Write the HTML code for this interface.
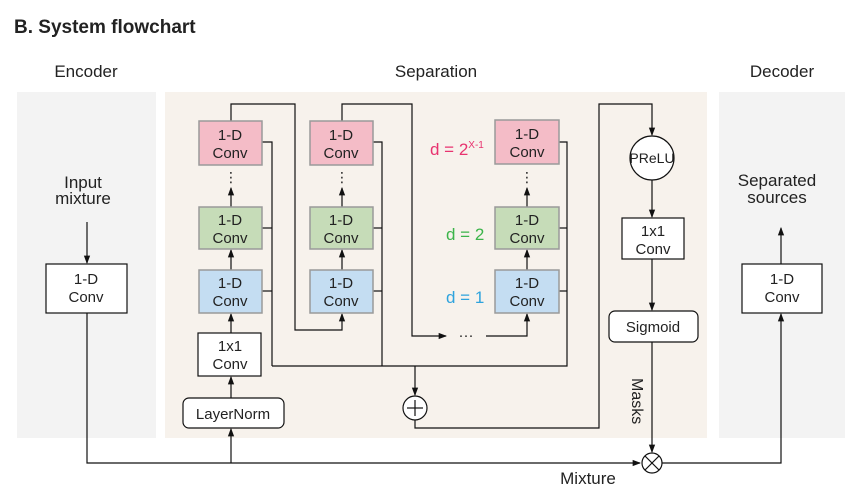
<!DOCTYPE html>
<html><head><meta charset="utf-8"><style>
html,body{margin:0;padding:0;background:#fff;}
svg{display:block;font-family:"Liberation Sans","DejaVu Sans",sans-serif;}
text{fill:#222;}
</style></head><body>
<svg width="864" height="497" viewBox="0 0 864 497">
<defs><marker id="ar" viewBox="0 0 8 8" refX="7" refY="4" markerWidth="7" markerHeight="7" orient="auto"><path d="M0,1 L8,4 L0,7 Z" fill="#111"/></marker></defs>
<text x="14" y="33" font-size="19" font-weight="bold">B. System flowchart</text>
<text x="86" y="77" font-size="17" text-anchor="middle">Encoder</text>
<text x="436" y="77" font-size="17" text-anchor="middle">Separation</text>
<text x="782" y="77" font-size="17" text-anchor="middle">Decoder</text>
<rect x="17" y="92" width="139" height="346" fill="#f3f3f3"/>
<rect x="165" y="92" width="542" height="346" fill="#f7f2ec"/>
<rect x="719" y="92" width="126" height="346" fill="#f3f3f3"/>
<g stroke="#111" stroke-width="1.2" fill="none">
<!-- encoder -->
<line x1="87" y1="222" x2="87" y2="263" marker-end="url(#ar)"/>
<polyline points="87,313 87,463 640,463" marker-end="url(#ar)"/>
<line x1="231" y1="463" x2="231" y2="429" marker-end="url(#ar)"/>
<line x1="231" y1="398" x2="231" y2="377" marker-end="url(#ar)"/>
<line x1="231" y1="333" x2="231" y2="314" marker-end="url(#ar)"/>
<line x1="231" y1="270" x2="231" y2="250" marker-end="url(#ar)"/>
<line x1="231" y1="207" x2="231" y2="188" marker-end="url(#ar)"/>
<line x1="342" y1="270" x2="342" y2="250" marker-end="url(#ar)"/>
<line x1="342" y1="207" x2="342" y2="188" marker-end="url(#ar)"/>
<line x1="527" y1="270" x2="527" y2="250" marker-end="url(#ar)"/>
<line x1="527" y1="207" x2="527" y2="188" marker-end="url(#ar)"/>
<!-- loops -->
<polyline points="231,121 231,104 295,104 295,330 342,330 342,314" marker-end="url(#ar)"/>
<polyline points="342,121 342,104 412,104 412,336 446,336" marker-end="url(#ar)"/>
<polyline points="486,336 527,336 527,314" marker-end="url(#ar)"/>
<!-- skip lines -->
<polyline points="262,142 272,142 272,366"/>
<line x1="262" y1="228" x2="272" y2="228"/>
<line x1="262" y1="291" x2="272" y2="291"/>
<polyline points="373,142 382,142 382,366"/>
<line x1="373" y1="228" x2="382" y2="228"/>
<line x1="373" y1="291" x2="382" y2="291"/>
<polyline points="559,142 567,142 567,366 272,366"/>
<line x1="559" y1="228" x2="567" y2="228"/>
<line x1="559" y1="291" x2="567" y2="291"/>
<line x1="415" y1="366" x2="415" y2="395" marker-end="url(#ar)"/>
<polyline points="415,420 415,428 599,428 599,104 652,104 652,135" marker-end="url(#ar)"/>
<line x1="652" y1="180" x2="652" y2="217" marker-end="url(#ar)"/>
<line x1="652" y1="259" x2="652" y2="310" marker-end="url(#ar)"/>
<line x1="652" y1="342" x2="652" y2="452" marker-end="url(#ar)"/>
<polyline points="662,463 781,463 781,314" marker-end="url(#ar)"/>
<line x1="781" y1="264" x2="781" y2="228" marker-end="url(#ar)"/>
</g>
<g stroke="#111" stroke-width="1.2" fill="#fff">
<circle cx="415" cy="408" r="12"/>
<line x1="407" y1="408" x2="423" y2="408"/><line x1="415" y1="400" x2="415" y2="416"/>
<circle cx="652" cy="463" r="10"/>
<line x1="645" y1="456" x2="659" y2="470"/><line x1="659" y1="456" x2="645" y2="470"/>
<circle cx="652" cy="158" r="22"/>
<rect x="46" y="264" width="81" height="49"/>
<rect x="742" y="264" width="80" height="49"/>
<rect x="198" y="333" width="63" height="43"/>
<rect x="183" y="398" width="101" height="30" rx="6"/>
<rect x="622" y="218" width="62" height="41"/>
<rect x="609" y="311" width="89" height="31" rx="6"/>
</g>
<g stroke="#9a9a9a" stroke-width="1.5">
<rect x="199" y="121" width="63" height="44" fill="#f4bcc7"/>
<rect x="199" y="207" width="63" height="42" fill="#c6dcb8"/>
<rect x="199" y="270" width="63" height="43" fill="#c4ddf2"/>
<rect x="310" y="121" width="63" height="44" fill="#f4bcc7"/>
<rect x="310" y="207" width="63" height="42" fill="#c6dcb8"/>
<rect x="310" y="270" width="63" height="43" fill="#c4ddf2"/>
<rect x="495" y="120" width="64" height="44" fill="#f4bcc7"/>
<rect x="495" y="207" width="64" height="42" fill="#c6dcb8"/>
<rect x="495" y="270" width="64" height="43" fill="#c4ddf2"/>
</g>
<g font-size="15" text-anchor="middle">
<text x="230" y="140">1-D</text><text x="230" y="158">Conv</text>
<text x="230" y="225">1-D</text><text x="230" y="243">Conv</text>
<text x="230" y="288">1-D</text><text x="230" y="306">Conv</text>
<text x="341" y="140">1-D</text><text x="341" y="158">Conv</text>
<text x="341" y="225">1-D</text><text x="341" y="243">Conv</text>
<text x="341" y="288">1-D</text><text x="341" y="306">Conv</text>
<text x="527" y="139">1-D</text><text x="527" y="157">Conv</text>
<text x="527" y="225">1-D</text><text x="527" y="243">Conv</text>
<text x="527" y="288">1-D</text><text x="527" y="306">Conv</text>
<text x="86" y="284">1-D</text><text x="86" y="302">Conv</text>
<text x="782" y="284">1-D</text><text x="782" y="302">Conv</text>
<text x="230" y="351">1x1</text><text x="230" y="369">Conv</text>
<text x="653" y="236">1x1</text><text x="653" y="254">Conv</text>
<text x="233" y="419">LayerNorm</text>
<text x="653" y="332">Sigmoid</text>
<text x="652" y="163" font-size="14">PReLU</text>
<text x="83" y="188" font-size="17">Input</text><text x="83" y="204" font-size="17">mixture</text>
<text x="777" y="186" font-size="17">Separated</text><text x="777" y="203" font-size="17">sources</text>
<text x="588" y="484" font-size="17">Mixture</text>
<text x="231" y="182" font-size="14">⋮</text><text x="342" y="182" font-size="14">⋮</text><text x="527" y="182" font-size="14">⋮</text>
<text x="466" y="340" font-size="15">···</text>
</g>
<text x="632" y="378" font-size="16" transform="rotate(90 632 378)">Masks</text>
<text x="430" y="155" font-size="17" fill="#e8336f" style="fill:#e8336f">d = 2<tspan font-size="10" dy="-7">X-1</tspan></text>
<text x="446" y="240" font-size="17" style="fill:#3cb44a">d = 2</text>
<text x="446" y="303" font-size="17" style="fill:#2ea3dd">d = 1</text>
</svg>
</body></html>
